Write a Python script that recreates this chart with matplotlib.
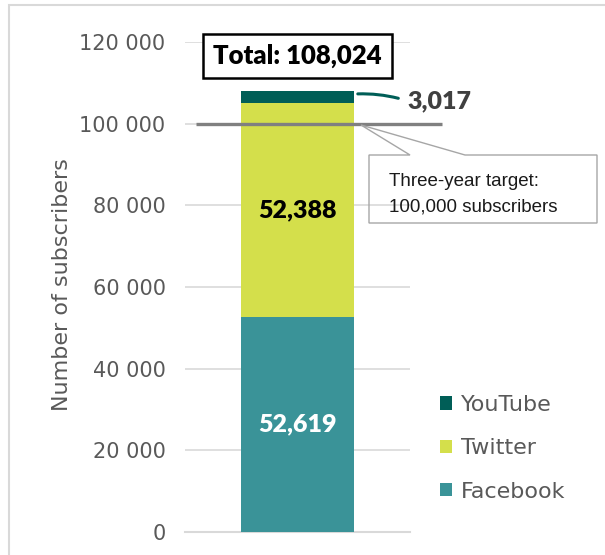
import matplotlib.pyplot as plt
from matplotlib.patches import Rectangle, Polygon

# data
channels = ['Facebook', 'Twitter', 'YouTube']
subscribers = [52619, 52388, 3017]
colors = ['#3A9398', '#D4DF4B', '#005E57']
target = 100000
yticks = [0, 20000, 40000, 60000, 80000, 100000, 120000]
callout_lines = ['Three-year target:', '100,000 subscribers']

W, H = 605, 555
def px(x, y):
    # pixel (from top-left) -> figure fraction
    return (x / W, 1 - y / H)

fig = plt.figure(figsize=(W / 100, H / 100), dpi=100)
ax = fig.add_axes([185 / W, 23 / H, 225 / W, 490 / H])

# stacked bar
bottom = 0
bars = []
for name, val, col in zip(channels, subscribers, colors):
    b = ax.bar(0, val, width=0.5, bottom=bottom, color=col, label=name, zorder=3)
    bars.append(b)
    bottom += val
total = bottom

ax.set_xlim(-0.5, 0.5)
ax.set_ylim(0, 120000)
ax.set_xticks([])
ax.set_yticks(yticks)
ax.set_yticklabels([f"{v:,}".replace(",", " ") for v in yticks],
                   fontsize=15, color='#595959', family='DejaVu Sans')
ax.tick_params(axis='y', length=0, pad=14)
for s in ['top', 'right', 'left']:
    ax.spines[s].set_visible(False)
ax.spines['bottom'].set_color('#D9D9D9')
ax.spines['bottom'].set_linewidth(1.5)
ax.grid(axis='y', color='#D9D9D9', linewidth=1.2, zorder=0)
ax.set_axisbelow(True)

fig.text(62 / W, 1 - 285 / H, 'Number of subscribers', rotation=90, ha='center',
         va='center', fontsize=16, color='#595959', family='DejaVu Sans')

# segment labels
ax.text(0, subscribers[0] / 2, f"{subscribers[0]:,}", ha='center', va='center',
        fontsize=18, fontweight='heavy', color='white', family='Lato', zorder=4)
ax.text(0, subscribers[0] + subscribers[1] / 2, f"{subscribers[1]:,}", ha='center',
        va='center', fontsize=18, fontweight='heavy', color='black', family='Lato', zorder=4)

# YouTube label with connector
ax.annotate('', xy=(0.2556, 107265), xytext=(0.46, 106040),
            arrowprops=dict(arrowstyle='-', color=colors[2], lw=2.2,
                            connectionstyle='arc3,rad=0.08'), annotation_clip=False)
ax.text(0.49, 105551, f"{subscribers[2]:,}", ha='left', va='center', fontsize=18,
        fontweight='heavy', color='#404040', family='Lato', clip_on=False)

# total box
ax.text(0, 116571, f"Total: {total:,}", ha='center', va='center', fontsize=18.5,
        fontweight='heavy', color='black', family='Lato', clip_on=False, zorder=5,
        bbox=dict(boxstyle='square,pad=0.4', fc='white', ec='black', lw=1.8))

# target line
ax.plot([-0.451, 0.642], [target, target], color='#808080', lw=2.4,
        solid_capstyle='butt', clip_on=False, zorder=5)

# callout
pts = [px(369, 155), px(410, 155), px(361, 125), px(465, 155), px(597, 155),
       px(597, 223), px(369, 223)]
fig.patches.append(Polygon(pts, closed=True, fill=False, ec='#A6A6A6', lw=1,
                           transform=fig.transFigure))
for i, line in enumerate(callout_lines):
    fig.text(389 / W, 1 - (182 + 25 * i) / H, line, ha='left', va='center',
             fontsize=13.5, color='#1a1a1a', family='Liberation Sans')

# legend
handles = bars[::-1]
leg = fig.legend(handles, channels[::-1], loc='upper left',
                 bbox_to_anchor=(440 / W, 1 - 395 / H), frameon=False,
                 handlelength=0.55, handleheight=0.55, handletextpad=0.4,
                 labelspacing=1.05, borderpad=0, borderaxespad=0,
                 prop={'family': 'DejaVu Sans', 'size': 16})
for t in leg.get_texts():
    t.set_color('#595959')

# chart border
fig.patches.append(Rectangle(px(9, 560), 1, 1, fill=False, ec='#D9D9D9', lw=1.5,
                             transform=fig.transFigure))

fig.savefig('out.png', dpi=100)
